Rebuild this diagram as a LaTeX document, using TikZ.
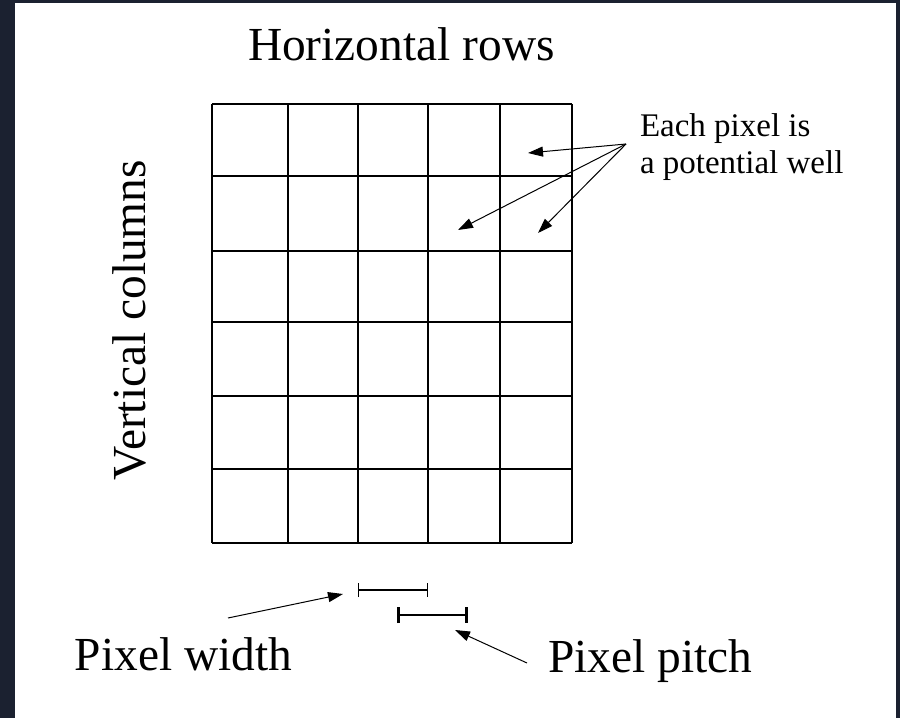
\documentclass[tikz,border=0pt]{standalone}
\usepackage{fontspec}
\setmainfont{Liberation Serif}
\usepackage{xcolor}
\usepackage{tikz}
\usetikzlibrary{positioning, arrows.meta}

\definecolor{frame}{HTML}{1B2130}

\begin{document}
\begin{tikzpicture}[
    x=0.5pt, y=-0.5pt,
    every node/.style={inner sep=0pt, outer sep=0pt},
    bigtxt/.style={font=\fontsize{23.7}{28}\selectfont, anchor=base west},
    smalltxt/.style={font=\fontsize{16.5}{18}\selectfont, anchor=base west},
    gridline/.style={line width=0.85pt},
    pointer/.style={line width=0.5pt, -{Triangle[length=7.5pt, width=5pt]}},
    widthbar/.style={line width=0.7pt, {Bar[width=7pt, line width=0.6pt]}-{Bar[width=7pt, line width=0.6pt]}},
    pitchbar/.style={line width=1pt, {Bar[width=8pt, line width=1.4pt]}-{Bar[width=8pt, line width=1.4pt]}},
  ]

  % --- Background ---
  \fill[frame] (0,0) rectangle (900,718);
  \fill[white] (15,3) rectangle (896,718);
  \useasboundingbox (0,0) rectangle (900,718);

  % --- Pixel grid ---
  \foreach \gx in {212,288,358,428,500,572}
    \draw[gridline] (\gx,104) -- (\gx,543);
  \foreach \gy in {104,176,251,322,396,469,543}
    \draw[gridline] (212,\gy) -- (572,\gy);

  % --- Labels ---
  \node[bigtxt] (rows) at (248,60) {Horizontal rows};
  \node[bigtxt, rotate=90] (cols) at (145,480) {Vertical columns};
  \node[smalltxt] (well1) at (640,136) {Each pixel is};
  \node[smalltxt] (well2) at (640,173) {a potential well};
  \node[bigtxt] (pwidth) at (75,670) {Pixel width};
  \node[bigtxt] (ppitch) at (548,672) {Pixel pitch};

  % --- Callout points ---
  \coordinate (wellsrc) at (626,144);
  \coordinate (wellA) at (528,153);
  \coordinate (wellB) at (458,230);
  \coordinate (wellC) at (538,233);
  \coordinate (widthsrc) at (228,618);
  \coordinate (widthtip) at (343,594);
  \coordinate (pitchsrc) at (527,663);
  \coordinate (pitchtip) at (455,630);

  % --- Scale bars ---
  \coordinate (wbarL) at (358,590);
  \coordinate (wbarR) at (428,590);
  \coordinate (pbarL) at (397,615);
  \coordinate (pbarR) at (468,615);
  \draw[widthbar] (wbarL) -- (wbarR);
  \draw[pitchbar] (pbarL) -- (pbarR);

  % --- Arrows ---
  \draw[pointer] (wellsrc) -- (wellA);
  \draw[pointer] (wellsrc) -- (wellB);
  \draw[pointer] (wellsrc) -- (wellC);
  \draw[pointer] (widthsrc) -- (widthtip);
  \draw[pointer] (pitchsrc) -- (pitchtip);

\end{tikzpicture}
\end{document}
